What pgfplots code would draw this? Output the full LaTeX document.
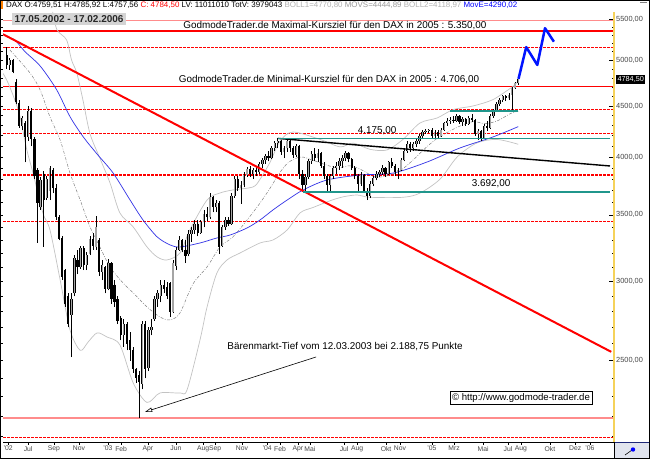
\documentclass[border=0pt]{standalone}
\usepackage{fontspec}
\setmainfont{Liberation Sans}
\usepackage{pgfplots}
\pgfplotsset{compat=1.18}
\usepackage{pgfplotstable}
\usetikzlibrary{arrows.meta}

\definecolor{tealc}{RGB}{32,150,140}
\definecolor{bbgray}{RGB}{195,195,195}
\definecolor{mablue}{RGB}{50,50,230}
\definecolor{projblue}{RGB}{0,20,255}
\definecolor{pinkred}{RGB}{255,140,140}
\definecolor{upgray}{RGB}{165,165,165}
\definecolor{axisyellow}{RGB}{245,210,90}
\definecolor{ticktext}{RGB}{70,70,70}
\definecolor{boxbg}{RGB}{225,228,238}
\definecolor{boxline}{RGB}{30,40,120}
\definecolor{datetext}{RGB}{40,40,40}
\definecolor{datebg}{RGB}{212,212,212}

\pgfplotstableread{
w o h l c
0 5060 5150 4900 4950
1 4950 5030 4890 5000
2 5000 5010 4850 4870
3 4760 4790 4520 4540
4 4530 4560 4280 4300
5 4300 4400 4260 4380
6 4330 4350 3950 4190
7 4190 4500 4150 4450
8 4450 4480 4100 4170
9 4170 4190 3800 3830
10 3880 3900 3280 3600
11 3560 3820 3540 3790
12 3850 3870 3250 3620
13 3640 3830 3620 3800
14 3700 3920 3620 3900
15 3880 3900 3680 3720
16 3720 3760 3460 3480
17 3480 3500 3300 3310
18 3320 3330 3010 3030
19 3080 3090 2830 2850
20 2900 2920 2700 2720
21 2780 2920 2520 2880
22 2920 3190 2900 3170
23 3150 3230 3050 3100
24 3100 3260 3090 3240
25 3240 3260 3080 3120
26 3120 3210 3080 3190
27 3200 3330 3190 3310
28 3310 3360 3230 3260
29 3250 3490 3230 3400
30 3300 3320 3040 3070
31 3070 3150 3010 3120
32 3100 3110 2920 2950
33 2950 3160 2940 3130
34 3130 3140 2850 2880
35 2980 3010 2830 2860
36 2880 2900 2720 2740
37 2760 2770 2620 2650
38 2650 2750 2580 2720
39 2720 2730 2560 2600
40 2620 2670 2500 2560
41 2560 2580 2430 2450
42 2450 2460 2375 2400
43 2420 2440 2189 2380
44 2370 2740 2340 2720
45 2720 2740 2400 2450
46 2460 2700 2440 2680
47 2680 2750 2650 2700
48 2750 2900 2740 2880
49 2880 2940 2830 2920
50 2900 3010 2860 2980
51 2980 3010 2920 2950
52 2960 3000 2880 2900
53 2990 3000 2765 2800
54 2800 3150 2790 3130
55 3110 3250 3080 3230
56 3230 3330 3220 3300
57 3300 3310 3210 3230
58 3230 3300 3130 3180
59 3200 3380 3180 3350
60 3350 3400 3290 3380
61 3380 3460 3350 3430
62 3430 3460 3330 3360
63 3360 3460 3350 3440
64 3440 3540 3400 3510
65 3510 3560 3450 3480
66 3480 3680 3470 3650
67 3650 3660 3520 3560
68 3560 3620 3520 3600
69 3600 3610 3200 3250
70 3260 3420 3250 3400
71 3400 3480 3380 3460
72 3460 3480 3410 3430
73 3430 3680 3420 3660
74 3660 3830 3640 3800
75 3800 3830 3700 3720
76 3720 3780 3590 3750
77 3750 3860 3730 3840
78 3840 3910 3820 3890
79 3890 3920 3820 3850
80 3850 3900 3800 3880
81 3880 3920 3830 3860
82 3860 3950 3850 3940
83 3940 3990 3900 3970
84 3970 4030 3940 4010
85 4010 4060 3960 3990
86 3990 4100 3980 4080
87 4080 4150 4060 4130
88 4130 4175 4080 4150
89 4150 4160 4020 4050
90 4050 4100 3990 4080
91 4080 4170 4050 4150
92 4150 4160 4050 4080
93 4080 4100 3990 4020
94 4020 4120 4000 4100
95 4100 4110 3800 3850
96 3850 3880 3690 3750
97 3750 3850 3700 3820
98 3820 3980 3800 3960
99 3960 4060 3940 4030
100 4030 4080 3960 3990
101 3990 4070 3950 4040
102 4040 4050 3900 3920
103 3920 3950 3800 3830
104 3830 3850 3700 3750
105 3750 3850 3700 3830
106 3830 3920 3800 3900
107 3900 3950 3850 3920
108 3920 3990 3880 3960
109 3960 4020 3900 3990
110 3990 4060 3960 4040
111 4040 4050 3950 3980
112 3980 3990 3880 3900
113 3900 3920 3800 3830
114 3830 3850 3700 3760
115 3760 3860 3740 3840
116 3840 3850 3680 3700
117 3700 3720 3620 3660
118 3660 3780 3640 3760
119 3760 3830 3740 3810
120 3810 3870 3790 3850
121 3850 3880 3820 3860
122 3860 3930 3840 3900
123 3900 3910 3820 3850
124 3850 3960 3840 3950
125 3950 3990 3900 3920
126 3920 3940 3830 3860
127 3860 3900 3800 3880
128 3880 3990 3870 3970
129 3970 4080 3960 4060
130 4060 4150 4040 4120
131 4120 4140 4050 4080
132 4080 4140 4060 4120
133 4120 4180 4090 4150
134 4150 4220 4120 4200
135 4200 4260 4170 4240
136 4240 4270 4220 4250
137 4250 4270 4230 4256
138 4256 4280 4170 4200
139 4200 4260 4180 4240
140 4240 4260 4180 4200
141 4200 4280 4190 4260
142 4260 4340 4250 4330
143 4330 4380 4300 4350
144 4350 4390 4320 4360
145 4360 4400 4330 4350
146 4350 4420 4340 4400
147 4400 4410 4320 4340
148 4340 4390 4300 4370
149 4370 4380 4300 4320
150 4320 4400 4310 4380
151 4380 4420 4340 4360
152 4360 4370 4200 4220
153 4220 4270 4160 4250
154 4250 4260 4150 4180
155 4180 4320 4170 4300
156 4300 4350 4250 4280
157 4280 4420 4270 4400
158 4400 4470 4380 4450
159 4450 4540 4440 4520
160 4520 4580 4500 4560
161 4560 4620 4540 4600
162 4600 4620 4550 4580
163 4580 4640 4560 4620
164 4620 4700 4460 4690
165 4690 4760 4680 4740
166 4740 4786 4720 4784.5
}\candles

\begin{document}
\begin{tikzpicture}[x=1pt,y=1pt]
\useasboundingbox (0,0) rectangle (650,459);
% outer frame
\fill[white] (0,0) rectangle (650,459);
\draw[black, line width=1pt] (0.5,0.5) rectangle (649.5,458.5);
\fill[orange] (1,450) rectangle (3,458);

\begin{axis}[
  at={(3pt,17pt)}, anchor=south west, scale only axis,
  width=611pt, height=430pt,
  xmin=-0.65, xmax=197.7, ymode=log, ymin=2072, ymax=5590,
  axis x line*=bottom, axis y line=none,
  x axis line style={-, black, line width=0.8pt},
  clip mode=individual,
  xtick={1.0,7.5,15.9,24.0,33.4,37.7,46.4,55.5,64.3,68.2,76.9,85.1,89.3,95.1,99.0,110.1,114.3,123.7,128.2,138.6,145.8,155.2,163.3,167.5,176.9,185.1,189.9},
  xticklabels={'02,Jul,Sep,Nov,'03 ,Feb,Apr,Jun,Aug,Sep,Nov,'04,Feb,Apr,Mai,Jul,Aug,Okt,Nov,'05,Mrz,Mai,Jul,Aug,Okt,Dez,'06},
  tick align=outside, major tick length=3pt,
  xtick style={black, line width=0.5pt},
  xticklabel style={font=\fontsize{6.8}{8}\selectfont, text=ticktext, inner sep=1pt},
  ytick=\empty,
  candle/.style={draw=none, mark=none, forget plot},
  lvl/.style={color=red, line width=1.1pt, dash pattern=on 3pt off 1pt},
]
% horizontal level lines
\addplot[color=pinkred, line width=1.5pt] coordinates {(-0.65,5480) (197.7,5480)};
\addplot[color=red, line width=1.3pt] coordinates {(-0.65,5350) (197.7,5350)};
\addplot[lvl] coordinates {(-0.65,5150) (197.7,5150)};
\addplot[color=red, line width=1.8pt] coordinates {(-0.65,4706) (197.7,4706)};
\addplot[lvl] coordinates {(-0.65,4460) (197.7,4460)};
\addplot[lvl] coordinates {(-0.65,4225) (197.7,4225)};
\addplot[lvl] coordinates {(-0.65,3838) (197.7,3838)};
\addplot[lvl] coordinates {(-0.65,3450) (197.7,3450)};
\addplot[color=pinkred, line width=1.5pt] coordinates {(-0.65,2190) (197.7,2190)};
\addplot[lvl] coordinates {(-0.65,2095) (197.7,2095)};

% Bollinger bands
\addplot[color=bbgray, line width=0.7pt, smooth] coordinates {(15.5,5590) (16.9,5362) (20,5240) (21.6,5003) (23.3,4856) (25.3,4562) (27.6,4220) (30.8,3990) (34.1,3767) (37.3,3515) (41.6,3404) (46.1,3250) (49.4,3176) (52.6,3154) (56.8,3205) (60,3380) (65.6,3622) (69.8,3681) (74,3707) (80.5,3733) (82.8,3800) (86,3950) (89.3,4150) (93.5,4237) (102.3,4165) (108.8,4094) (113,4130) (118.5,4071) (124,4065) (129.2,4165) (134.7,4326) (140.3,4377) (145.5,4462) (152,4500) (158,4560) (162,4640) (165.6,4726) (166.6,4771)};
\addplot[color=bbgray, line width=0.7pt, smooth] coordinates {(-0.6,4850) (1.0,4745) (3.2,4562) (4.9,4387) (7.1,4065) (9.1,3855) (12.3,3515) (14.6,3380) (17.9,3012) (21.1,2684) (24.4,2560) (27,2610) (29.9,2665) (33.1,2640) (37.3,2592) (41.6,2375) (46.1,2270) (50.3,2320) (56.8,2320) (59.1,2337) (63.3,2622) (65.6,2830) (68.8,3061) (72.1,3154) (76.3,3205) (82.8,3280) (87,3303) (91.6,3380) (95.8,3516) (100,3560) (106,3620) (110,3650) (114.3,3664) (118.5,3645) (129.2,3645) (134.7,3680) (141.2,3800) (146.8,4000) (153.2,4132) (159.7,4165) (166.6,4119)};
% middle band (dash dot)
\addplot[color=gray, line width=0.5pt, dash pattern=on 3pt off 1.5pt on 0.8pt off 1.5pt, smooth] coordinates {(1.6,5120) (8.1,4856) (11.4,4669) (14.6,4387) (17.9,4160) (21.1,3855) (24.4,3622) (27.6,3404) (30.8,3250) (34.1,3103) (38.3,2991) (41.6,2923) (46.1,2830) (50.3,2765) (53.6,2746) (56.8,2791) (61,2984) (65.6,3103) (69.8,3250) (74,3326) (78.6,3459) (82.8,3597) (86,3720) (89,3850) (92,3950) (96,4000) (100,3970) (104,3930) (108,3900) (112,3920) (116,3880) (120,3820) (124,3830) (128,3870) (132,3960) (136,4070) (140,4170) (144,4240) (148,4300) (152,4340) (156,4320) (160,4350) (164,4420) (166.6,4445)};
% moving average blue
\addplot[color=mablue, line width=0.7pt, smooth] coordinates {(0.6,5276) (3.2,5240) (6.5,5100) (11.4,4935) (16.8,4669) (21.1,4390) (25.4,4190) (29.8,4030) (35.1,3855) (40.6,3622) (44.8,3459) (49.4,3326) (53.6,3265) (56.8,3250) (63.3,3280) (68.8,3318) (73.1,3341) (78.6,3396) (82.8,3459) (87.0,3540) (91.6,3622) (96.8,3707) (104.5,3793) (115.3,3837) (126.0,3855) (137.0,3954) (147.7,4084) (158.4,4189) (166.6,4290)};

% candles: wicks
\addplot[candle, error bars/.cd, y dir=plus, y explicit,
  error mark=none, error bar style={draw=black, line width=0.6pt}]
  table[x expr=\thisrow{w}+0.55, y=l, y error plus expr=\thisrow{h}-\thisrow{l}] {\candles};
% up bodies
\addplot[candle, error bars/.cd, y dir=plus, y explicit,
  error mark=none, error bar style={draw=black, line width=2.3pt, line cap=butt}]
  table[x expr=\thisrow{w}+0.55, y=o, y error plus expr={max(\thisrow{c}-\thisrow{o},0)}] {\candles};
\addplot[candle, error bars/.cd, y dir=plus, y explicit,
  error mark=none, error bar style={draw=upgray, line width=1.1pt, line cap=butt}]
  table[x expr=\thisrow{w}+0.55, y=o, y error plus expr={max(\thisrow{c}-\thisrow{o},0)}] {\candles};
% down bodies
\addplot[candle, error bars/.cd, y dir=minus, y explicit,
  error mark=none, error bar style={draw=black, line width=2.3pt, line cap=butt}]
  table[x expr=\thisrow{w}+0.55, y=o, y error minus expr={max(\thisrow{o}-\thisrow{c},0)}] {\candles};

% trend lines
\addplot[color=red, line width=2pt] coordinates {(-0.65,5310) (196.8,2551)};
\addplot[color=black, line width=1.4pt] coordinates {(88.6,4175) (196.4,3918)};
\addplot[color=tealc, line width=1.8pt] coordinates {(88.6,4175) (196.4,4175)};
\addplot[color=tealc, line width=1.8pt] coordinates {(96.8,3692) (196.4,3692)};
\addplot[color=tealc, line width=1.8pt] coordinates {(144.5,4450) (166.6,4450)};
% projection
\addplot[color=projblue, line width=2.5pt, line join=round] coordinates {(166.7,4790) (169.2,5155) (172.8,4946) (175.3,5384) (178.2,5219)};
% arrow
\addplot[color=black, line width=0.6pt, -{Triangle[open, length=7pt, width=4.5pt]}] coordinates {(101,2521) (45.5,2221)};

% annotations
\node[font=\fontsize{9.9}{11}\selectfont] at (axis cs:107.1,5415) {GodmodeTrader.de Maximal-Kursziel für den DAX in 2005 : 5.350,00};
\node[font=\fontsize{9.9}{11}\selectfont] at (axis cs:105.2,4784) {GodmodeTrader.de Minimal-Kursziel für den DAX in 2005 : 4.706,00};
\node[font=\fontsize{9.9}{11}\selectfont] at (axis cs:120.8,4250) {4.175,00};
\node[font=\fontsize{9.9}{11}\selectfont] at (axis cs:157.8,3760) {3.692,00};
\node[font=\fontsize{9.9}{11}\selectfont] at (axis cs:110.4,2581) {Bärenmarkt-Tief vom 12.03.2003 bei 2.188,75 Punkte};
\node[draw=black, fill=white, line width=0.6pt, inner sep=2pt, font=\fontsize{9.6}{10}\selectfont] at (axis cs:167.5,2294) {© http://www.godmode-trader.de};
\node[fill=datebg, inner sep=2.2pt, font=\bfseries\fontsize{10}{11}\selectfont, text=datetext] at (axis cs:20.8,5500) {17.05.2002 - 17.02.2006};
\node[fill=black, text=white, inner sep=1.2pt, anchor=west, font=\fontsize{7.3}{8}\selectfont] at (axis cs:198.4,4784.5) {4784,50};
\end{axis}

% right y axis
\begin{axis}[
  at={(3pt,17pt)}, anchor=south west, scale only axis,
  width=611pt, height=430pt,
  xmin=-0.65, xmax=197.7, ymode=log, ymin=2072, ymax=5590,
  axis x line=none, axis y line*=right,
  y axis line style={-, draw=axisyellow, line width=1.4pt},
  ytick={2500,3000,3500,4000,4500,5000,5500},
  yticklabels={{2500,00},{3000,00},{3500,00},{4000,00},{4500,00},{5000,00},{5500,00}},
  minor ytick={2100,2200,...,5500},
  tick align=inside, major tick length=5pt, minor tick length=2.5pt,
  ytick style={black, line width=0.7pt},
  minor tick style={black, line width=0.7pt},
  yticklabel style={font=\fontsize{7.4}{8}\selectfont, text=ticktext, inner sep=1pt, xshift=1pt},
]
\end{axis}

% left y ticks
\begin{axis}[
  at={(3pt,17pt)}, anchor=south west, scale only axis,
  width=611pt, height=430pt,
  xmin=-0.65, xmax=197.7, ymode=log, ymin=2072, ymax=5590,
  axis x line=none, axis y line*=left,
  y axis line style={draw=none},
  ytick={2500,3000,3500,4000,4500,5000,5500},
  yticklabels={},
  minor ytick={2100,2200,...,5500},
  tick align=outside, major tick length=2.5pt, minor tick length=2.5pt,
  ytick style={black, line width=0.7pt},
  minor tick style={black, line width=0.7pt},
]
\end{axis}

% header
\node[anchor=west, inner sep=0pt, font=\fontsize{7.95}{9}\selectfont] at (6,453.5) {DAX O:4759,51 H:4785,92 L:4757,56 \textcolor{red}{C: 4784,50} LV: 11011010 TotV: 3979043 \textcolor{black!30}{BOLL1=4770,80} \textcolor{black!40}{MOVS=4444,89} \textcolor{black!30}{BOLL2=4118,97} \textcolor{blue}{MovE=4290,02}};
% bottom right box
\fill[boxbg] (614,1) rectangle (649,16.5);
\draw[boxline, line width=1pt] (614,16.5) -- (649,16.5);
\draw[black, line width=0.6pt] (614,1) -- (614,17);
\draw[black, line width=0.6pt] (625,4) -- (632,9);
\fill[blue] (633,9.5) circle (2.2pt);
\draw[gray, line width=1pt] (640,456) -- (647,456);
\end{tikzpicture}
\end{document}
